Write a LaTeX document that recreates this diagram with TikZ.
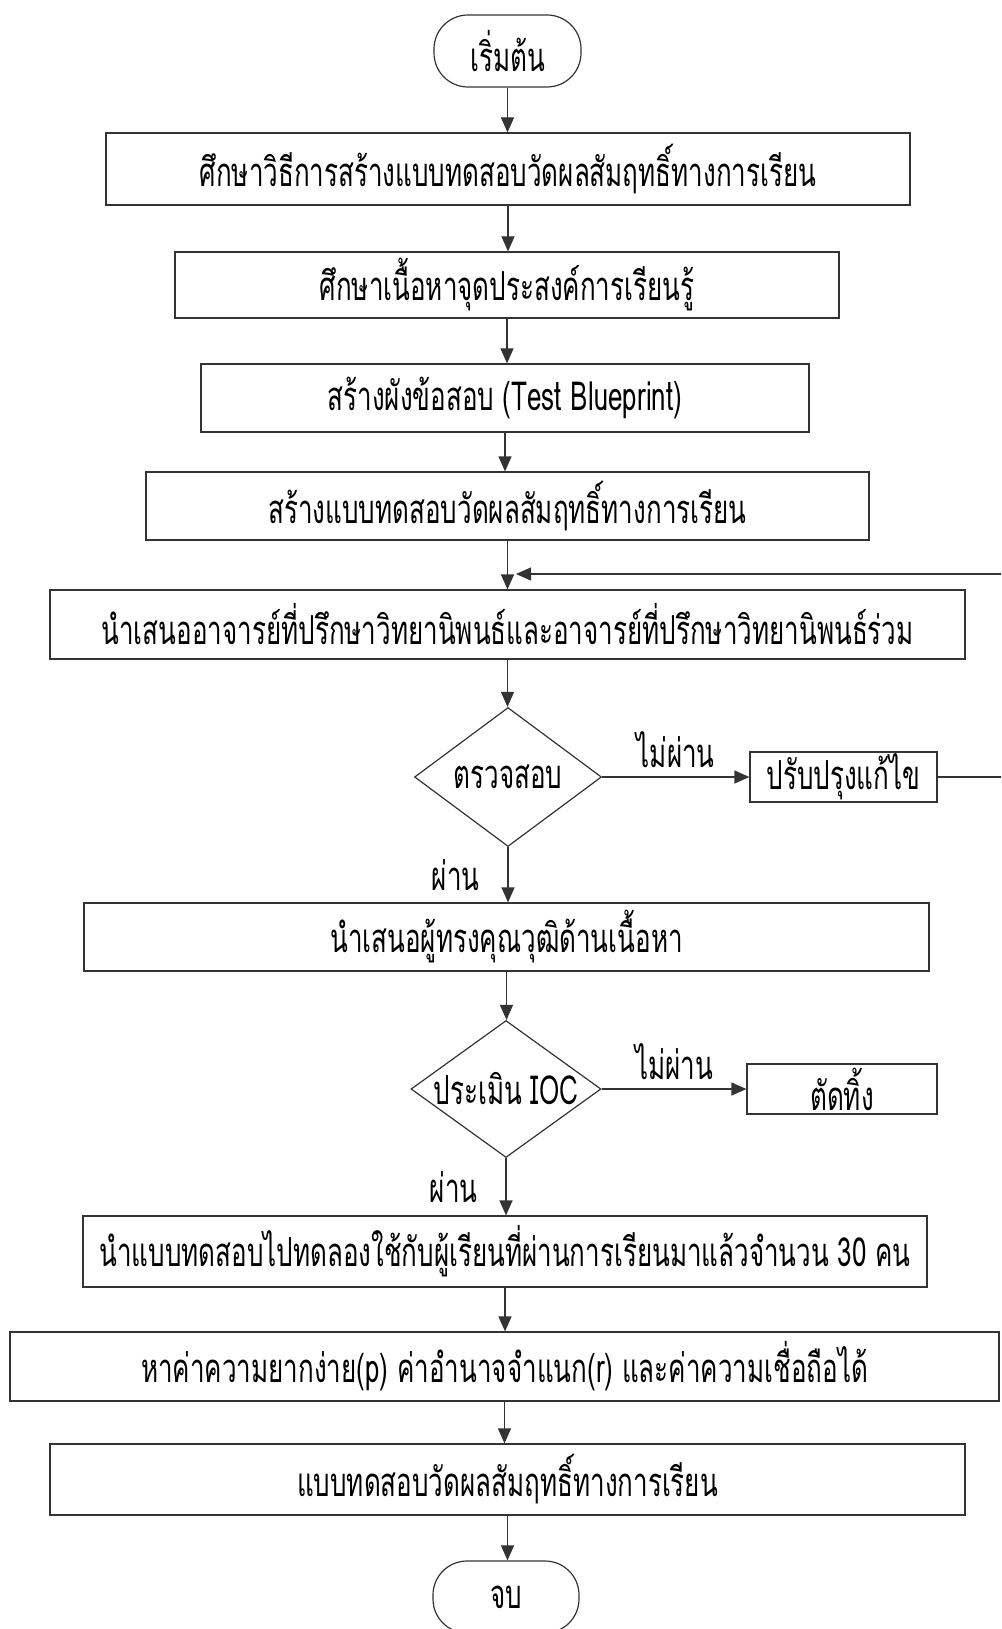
\documentclass[tikz,border=0pt]{standalone}
\usepackage{fontspec}
\newfontfamily\thaifont[Script=Thai,FakeStretch=0.65]{Loma}
\usetikzlibrary{arrows.meta,shapes.geometric}
\begin{document}
\begin{tikzpicture}[x=1pt,y=-1pt,
  every node/.style={font=\thaifont\fontsize{40pt}{46pt}\selectfont, text=black},
  ln/.style={draw=black!80, line width=1.2pt},
  arr/.style={ln, -{Triangle[length=15pt,width=13pt]}},
  box/.style={ln, rectangle, inner sep=0pt, anchor=center},
  term/.style={ln, rectangle, rounded corners=34pt, inner sep=0pt},
  dia/.style={ln, diamond, inner sep=0pt},
  lab/.style={inner sep=0pt}]
\useasboundingbox (0,0) rectangle (1001,1629);
\clip (0,0) rectangle (1001,1629);
\node[term, minimum width=147pt, minimum height=72pt] (start) at (507.5,51) {เริ่มต้น};
\node[box, minimum width=804pt, minimum height=72pt] (b1) at (508,169) {ศึกษาวิธีการสร้างแบบทดสอบวัดผลสัมฤทธิ์ทางการเรียน};
\node[box, minimum width=664pt, minimum height=66pt] (b2) at (507,285) {ศึกษาเนื้อหาจุดประสงค์การเรียนรู้};
\node[box, minimum width=608pt, minimum height=68pt] (b3) at (505,398) {สร้างผังข้อสอบ (Test Blueprint)};
\node[box, minimum width=723pt, minimum height=68pt] (b4) at (507.5,506) {สร้างแบบทดสอบวัดผลสัมฤทธิ์ทางการเรียน};
\node[box, minimum width=915pt, minimum height=69pt] (b5) at (507.5,624.5) {นำเสนออาจารย์ที่ปรึกษาวิทยานิพนธ์และอาจารย์ที่ปรึกษาวิทยานิพนธ์ร่วม};
\node[dia, minimum width=187pt, minimum height=139pt, label={center:ตรวจสอบ}] (d1) at (508,777) {};
\node[box, minimum width=187pt, minimum height=50pt] (fix) at (843.5,777) {ปรับปรุงแก้ไข};
\node[box, minimum width=845pt, minimum height=68pt] (b6) at (506.5,937) {นำเสนอผู้ทรงคุณวุฒิด้านเนื้อหา};
\node[dia, minimum width=190pt, minimum height=137pt, label={center:ประเมิน IOC}] (d2) at (506,1089) {};
\node[box, minimum width=190pt, minimum height=50pt] (cut) at (842,1089) {ตัดทิ้ง};
\node[box, minimum width=844pt, minimum height=71pt] (b7) at (505,1251.5) {นำแบบทดสอบไปทดลองใช้กับผู้เรียนที่ผ่านการเรียนมาแล้วจำนวน 30 คน};
\node[box, minimum width=989pt, minimum height=69pt] (b8) at (504.5,1366.5) {หาค่าความยากง่าย(p) ค่าอำนาจจำแนก(r) และค่าความเชื่อถือได้};
\node[box, minimum width=915pt, minimum height=71pt] (b9) at (507.5,1479.5) {แบบทดสอบวัดผลสัมฤทธิ์ทางการเรียน};
\node[term, minimum width=146pt, minimum height=72pt] (end) at (506,1597) {จบ};
\draw[arr] (start.south) -- (start.south |- b1.north);
\draw[arr] (b1.south) -- (b1.south |- b2.north);
\draw[arr] (b2.south) -- (b2.south |- b3.north);
\draw[arr] (b3.south) -- (b3.south |- b4.north);
\draw[arr] (b4.south) -- (b4.south |- b5.north);
\draw[arr] (b5.south) -- (b5.south |- d1.north);
\draw[arr] (d1.south) -- node[lab, left=28pt] {ผ่าน} (d1.south |- b6.north);
\draw[arr] (d1.east) -- node[lab, above=9pt] {ไม่ผ่าน} (fix.west);
\coordinate (fbr) at (1015,574);
\coordinate (fb) at (516,574);
\draw[arr] (fix.east) -- (fix.east -| fbr) -- (fbr) -- (fb);
\draw[arr] (b6.south) -- (b6.south |- d2.north);
\draw[arr] (d2.south) -- node[lab, left=28pt] {ผ่าน} (d2.south |- b7.north);
\draw[arr] (d2.east) -- node[lab, above=9pt] {ไม่ผ่าน} (cut.west);
\draw[arr] (b7.south) -- (b7.south |- b8.north);
\draw[arr] (b8.south) -- (b8.south |- b9.north);
\draw[arr] (b9.south) -- (b9.south |- end.north);
\end{tikzpicture}
\end{document}
